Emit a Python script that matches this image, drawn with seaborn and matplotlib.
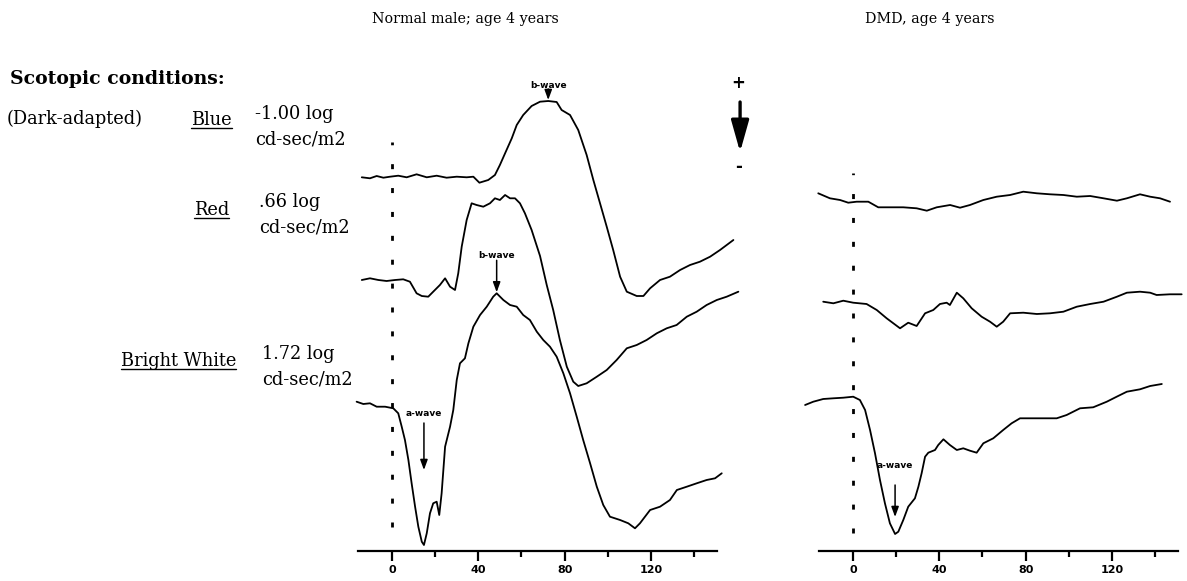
import matplotlib
matplotlib.use("Agg")
import matplotlib.pyplot as plt
import seaborn as sns
import pandas as pd
import numpy as np
from matplotlib.lines import Line2D

# ---------------- data (time in ms, amplitude in arbitrary units, up = positive) -------------
panel_titles = ["Normal male; age 4 years", "DMD, age 4 years"]
stim_names = ["Blue", "Red", "Bright White"]
stim_intensity = ["-1.00 log", ".66 log", "1.72 log"]
intensity_unit = "cd-sec/m2"
tick_values = [0, 40, 80, 120]
tick_labels = ["0", "40", "80", "120"]
minor_tick_values = [20, 60, 100, 140]

normal_blue_t = [-14.0, -10.2, -7.1, -4.0, -0.9, 2.9, 6.8, 11.4, 16.1, 20.7, 25.3, 30.0, 34.6, 37.7,
                 40.5, 44.6, 47.7, 50.0, 52.4, 55.5, 57.8, 60.8, 64.7, 68.6, 72.4, 76.3, 78.6, 82.5,
                 86.3, 90.2, 93.3, 96.4, 99.5, 102.5, 105.7, 108.8, 113.4, 116.5, 119.6, 124.2,
                 128.8, 133.5, 138.1, 142.7, 147.4, 152.0, 158.2]
normal_blue_a = [-0.3, -1.3, 1.0, -0.7, 0.3, 1.3, -0.3, 2.7, -0.3, 1.3, -0.7, 0.3, -0.3, 0.3,
                 -5.7, -3.0, 2.0, 12.0, 23.7, 38.7, 52.0, 62.0, 71.0, 75.3, 76.0, 75.0, 67.0, 62.0,
                 47.0, 22.0, -3.0, -26.3, -49.7, -73.0, -99.7, -114.7, -119.0, -119.0, -111.3, -103.0,
                 -99.7, -93.0, -88.0, -84.7, -79.7, -73.0, -63.0]

normal_red_t = [-14.0, -10.2, -6.3, -2.5, 1.4, 5.2, 8.3, 11.4, 13.8, 16.8, 19.1, 22.2, 24.6, 26.9,
                29.2, 30.7, 32.3, 34.6, 36.9, 39.2, 42.3, 45.4, 47.7, 50.0, 52.4, 54.7, 57.0, 59.3,
                61.6, 64.7, 68.6, 71.7, 74.7, 77.8, 81.0, 84.0, 86.3, 90.2, 94.9, 99.5, 104.1, 108.8,
                113.4, 118.0, 122.7, 127.3, 131.9, 136.6, 141.2, 145.8, 150.5, 155.1, 160.5]
normal_red_a = [0.0, 1.7, 0.0, -1.0, 0.0, 0.7, -1.7, -13.3, -16.0, -16.7, -11.7, -5.0, 1.7, -6.7,
                -10.0, 6.7, 33.3, 60.0, 76.7, 75.0, 73.3, 76.7, 81.7, 80.0, 85.0, 81.7, 81.7, 76.7,
                66.7, 50.0, 24.0, -5.0, -30.0, -60.0, -86.7, -101.7, -106.0, -103.3, -96.7, -90.0,
                -80.0, -68.3, -65.0, -60.0, -53.3, -48.3, -45.0, -36.7, -31.7, -25.0, -20.0, -16.7, -11.7]

normal_white_t = [-16.4, -13.3, -10.2, -7.1, -3.2, 0.6, 2.9, 4.5, 6.0, 7.6, 9.1, 10.7, 12.2, 13.8,
                  14.8, 16.1, 17.6, 19.1, 20.7, 21.9, 23.0, 24.6, 26.9, 28.4, 30.0, 31.5, 33.8, 35.4,
                  37.7, 40.8, 43.9, 46.9, 48.5, 51.6, 54.7, 57.8, 60.8, 63.9, 67.1, 70.1, 73.2, 76.3,
                  79.4, 82.5, 85.6, 88.6, 91.8, 94.9, 97.9, 101.0, 105.7, 109.5, 112.6, 114.9, 119.6,
                  124.2, 128.8, 132.0, 136.6, 141.2, 145.8, 149.7, 152.8]
normal_white_a = [1.3, -1.0, -0.3, -3.7, -3.7, -5.3, -10.3, -23.7, -37.0, -57.0, -80.3, -103.7, -123.7,
                  -138.7, -142.0, -130.3, -110.3, -100.3, -98.7, -112.0, -90.3, -43.7, -23.7, -7.0,
                  23.0, 39.7, 44.7, 59.7, 76.3, 88.0, 96.3, 106.3, 109.7, 103.0, 98.0, 96.3, 88.0, 83.0,
                  71.3, 63.0, 56.3, 46.3, 29.7, 9.7, -13.7, -37.0, -60.3, -83.7, -102.0, -113.7, -117.0,
                  -120.3, -125.3, -120.3, -107.0, -103.7, -97.0, -87.0, -83.7, -80.3, -77.0, -75.3, -70.3]

dmd_blue_t = [-16.1, -10.7, -6.0, -2.2, 1.7, 7.1, 11.7, 17.1, 23.3, 29.5, 34.2, 38.8, 45.0, 49.6, 54.2,
              60.4, 66.6, 72.8, 78.9, 85.2, 91.3, 97.5, 103.7, 109.9, 116.1, 122.3, 126.9, 133.0,
              137.7, 142.3, 146.9]
dmd_blue_a = [7.7, 2.7, 1.0, -1.7, -0.7, -0.7, -6.3, -6.3, -6.3, -7.3, -9.7, -6.3, -4.0, -6.7, -4.0,
              1.0, 4.3, 6.0, 9.3, 7.7, 6.7, 6.0, 4.3, 5.0, 2.7, 0.3, 2.7, 6.7, 4.3, 2.7, -0.7]

dmd_red_t = [-13.8, -9.1, -4.5, 0.1, 6.3, 11.0, 15.6, 21.8, 25.6, 29.5, 33.4, 37.2, 40.3, 43.4, 44.9,
             48.1, 51.1, 55.0, 59.6, 63.5, 66.6, 69.6, 72.8, 78.9, 85.2, 91.3, 97.5, 103.7, 109.9,
             116.1, 122.3, 126.9, 133.0, 137.7, 140.7, 146.9, 152.3]
dmd_red_a = [0.3, -1.3, 1.3, -0.7, -2.0, -8.0, -16.3, -26.3, -20.7, -24.0, -11.3, -8.0, -2.0, -0.7,
             -3.0, 9.3, 3.7, -6.3, -14.7, -19.7, -24.7, -19.7, -11.3, -10.7, -12.0, -11.3, -9.7, -4.7,
             -2.0, 0.3, 5.3, 9.3, 10.3, 9.3, 7.0, 7.7, 7.7]

dmd_white_t = [-22.2, -18.4, -13.8, -9.1, -4.5, 0.1, 3.2, 5.6, 7.9, 10.2, 12.5, 14.8, 17.1, 19.5, 21.0,
               23.3, 25.6, 28.7, 30.3, 31.8, 33.4, 34.9, 38.0, 39.5, 41.9, 44.9, 48.1, 51.1, 54.2,
               57.3, 60.4, 65.0, 69.6, 73.5, 77.4, 83.5, 89.8, 94.4, 99.0, 105.2, 111.3, 117.6, 122.2,
               126.9, 133.0, 137.7, 143.1]
dmd_white_a = [-7.0, -3.7, -1.0, -0.3, 0.3, 1.3, -2.0, -12.0, -32.0, -55.3, -82.0, -105.3, -125.3,
               -136.0, -133.7, -122.0, -108.7, -100.3, -88.7, -75.3, -58.7, -54.7, -52.0, -47.0,
               -41.3, -47.0, -52.0, -50.3, -52.7, -54.7, -45.3, -40.3, -32.0, -25.3, -20.3, -20.3,
               -20.3, -20.3, -17.0, -10.3, -9.3, -3.7, 1.3, 6.3, 8.7, 12.0, 14.0]

# ---------------- layout ----------------
sns.set_theme(style="white")
plt.rcParams["font.family"] = ["DejaVu Serif", "Liberation Serif"]
plt.rcParams["text.color"] = "black"
plt.rcParams["xtick.color"] = "black"
plt.rcParams["xtick.labelcolor"] = "black"

W, H = 1187, 581
fig = plt.figure(figsize=(W / 100, H / 100), dpi=100)
PX_PER_MS = 2.158


def make_ax(zero_px, tmin, tmax):
    left = (zero_px + tmin * PX_PER_MS) / W
    width = (tmax - tmin) * PX_PER_MS / W
    ax = fig.add_axes([left, 0, width, 1])
    ax.set_xlim(tmin, tmax)
    ax.set_ylim(-30, 551)
    ax.patch.set_alpha(0)
    for s in ["top", "left", "right"]:
        ax.spines[s].set_visible(False)
    ax.spines["bottom"].set_position(("data", 0))
    ax.spines["bottom"].set_bounds(-15.8, 150.6)
    ax.spines["bottom"].set_linewidth(1.6)
    ax.spines["bottom"].set_color("black")
    ax.set_yticks([])
    ax.set_xticks(tick_values)
    ax.set_xticks(minor_tick_values, minor=True)
    ax.set_xticklabels(tick_labels, fontfamily="DejaVu Sans", fontweight="bold", fontsize=8,
                       color="black")
    ax.tick_params(axis="x", which="major", bottom=True, length=7, width=1.6, direction="out",
                   pad=3, color="black")
    ax.tick_params(axis="x", which="minor", bottom=True, length=4, width=1.6, direction="out",
                   color="black")
    ax.grid(False)
    return ax


ax_n = make_ax(392, -20, 165)
ax_d = make_ax(853, -24, 155)

offsets_n = [374, 271, 148]
offsets_d = [350, 249, 153]


def draw_trace(ax, t, a, off):
    df = pd.DataFrame({"t": t, "y": np.asarray(a) + off})
    sns.lineplot(data=df, x="t", y="y", ax=ax, color="black", lw=1.3,
                 estimator=None, sort=False)
    ax.set_xlabel("")
    ax.set_ylabel("")
    return df


n_traces = [(normal_blue_t, normal_blue_a), (normal_red_t, normal_red_a), (normal_white_t, normal_white_a)]
d_traces = [(dmd_blue_t, dmd_blue_a), (dmd_red_t, dmd_red_a), (dmd_white_t, dmd_white_a)]
n_dfs = [draw_trace(ax_n, t, a, o) for (t, a), o in zip(n_traces, offsets_n)]
d_dfs = [draw_trace(ax_d, t, a, o) for (t, a), o in zip(d_traces, offsets_d)]

# stimulus onset dotted lines
for ax, y0, y1 in [(ax_n, 24, 409), (ax_d, 18, 378)]:
    ax.plot([0, 0], [y0, y1], color="black", lw=2.0, ls=(0, (1.8, 6.8)),
            solid_capstyle="butt", dash_capstyle="butt")


def small_arrow(ax, x, y_tail, y_tip):
    ax.annotate("", xy=(x, y_tip), xytext=(x, y_tail),
                arrowprops=dict(arrowstyle="-|>,head_length=0.6,head_width=0.22", color="black",
                                lw=1.1, shrinkA=0, shrinkB=0, mutation_scale=10))


def wave_label(ax, x, y, s):
    ax.text(x, y, s, ha="center", va="center", fontsize=6.5, fontweight="bold",
            family="DejaVu Sans", color="black")


# b-waves (peaks) of normal blue and bright white
for df, lab_dy, tail_dy in [(n_dfs[0], 16, 12), (n_dfs[2], 38, 33)]:
    i = df["y"].idxmax()
    tp, yp = df.loc[i, "t"], df.loc[i, "y"]
    small_arrow(ax_n, tp, yp + tail_dy, yp + 1)
    wave_label(ax_n, tp, yp + lab_dy, "b-wave")

# a-waves (troughs) of bright white
for ax, df, lab_dy, tail_dy, tip_dy in [(ax_n, n_dfs[2], 132, 122, 75), (ax_d, d_dfs[2], 69, 49, 17)]:
    i = df["y"].idxmin()
    tp, yp = df.loc[i, "t"], df.loc[i, "y"]
    small_arrow(ax, tp, yp + tail_dy, yp + tip_dy)
    wave_label(ax, tp, yp + lab_dy, "a-wave")

# polarity arrow
ax_n.annotate("", xy=(161.3, 399), xytext=(161.3, 449),
              arrowprops=dict(arrowstyle="-|>,head_length=1.6,head_width=0.45", color="black",
                              lw=2.4, shrinkA=0, shrinkB=0, mutation_scale=12))
ax_n.text(160.6, 468, "+", ha="center", va="center", fontsize=12, fontweight="bold",
          family="DejaVu Sans")
ax_n.text(160.6, 384, "-", ha="center", va="center", fontsize=12, fontweight="bold",
          family="DejaVu Sans")


# ---------------- text ----------------
groups = {}  # group -> list of (artist, target width px)


def ftext(x, y, s, group=None, target_w=None, **kw):
    t = fig.text(x / W, 1 - y / H, s, **kw)
    if group is not None:
        groups.setdefault(group, []).append((t, target_w))
    return t


ftext(465, 19, panel_titles[0], "title", 185, ha="center", va="center", fontsize=11)
ftext(930, 19, panel_titles[1], "title", 129, ha="center", va="center", fontsize=11)
ftext(10, 79, "Scotopic conditions:", "head", 215, ha="left", va="center", fontsize=14,
      fontweight="bold")
ftext(7, 119, "(Dark-adapted)", "label", 138, ha="left", va="center", fontsize=12)

name_pos = [(232, 120), (229, 210), (236, 361)]
name_w = [40, 36, 114]
int_pos = [(255, 114), (259, 202), (262, 354)]
int_w = [75, 58, 65]
unit_w = [95, 94, 95]
name_texts = []
for name, (x, y), tw in zip(stim_names, name_pos, name_w):
    name_texts.append(ftext(x, y, name, "label", tw, ha="right", va="center", fontsize=12))
for s, (x, y), tw, uw in zip(stim_intensity, int_pos, int_w, unit_w):
    ftext(x, y, s, "label", tw, ha="left", va="center", fontsize=12)
    ftext(x, y + 26, intensity_unit, "label", uw, ha="left", va="center", fontsize=12)

# one common font size per group, fitted to the widths measured on the reference
fig.canvas.draw()
renderer = fig.canvas.get_renderer()
for g, items in groups.items():
    sizes = [t.get_fontsize() * tw / t.get_window_extent(renderer).width for t, tw in items]
    size = float(np.median(sizes))
    for t, _ in items:
        t.set_fontsize(size)
fig.canvas.draw()
for t in name_texts:
    bb = t.get_window_extent(renderer)
    yline = bb.y0 + 1
    fig.add_artist(Line2D([bb.x0 / W, bb.x1 / W], [yline / H, yline / H], color="black", lw=1.0,
                          transform=fig.transFigure))

fig.savefig("out.png", dpi=100, facecolor="white")
